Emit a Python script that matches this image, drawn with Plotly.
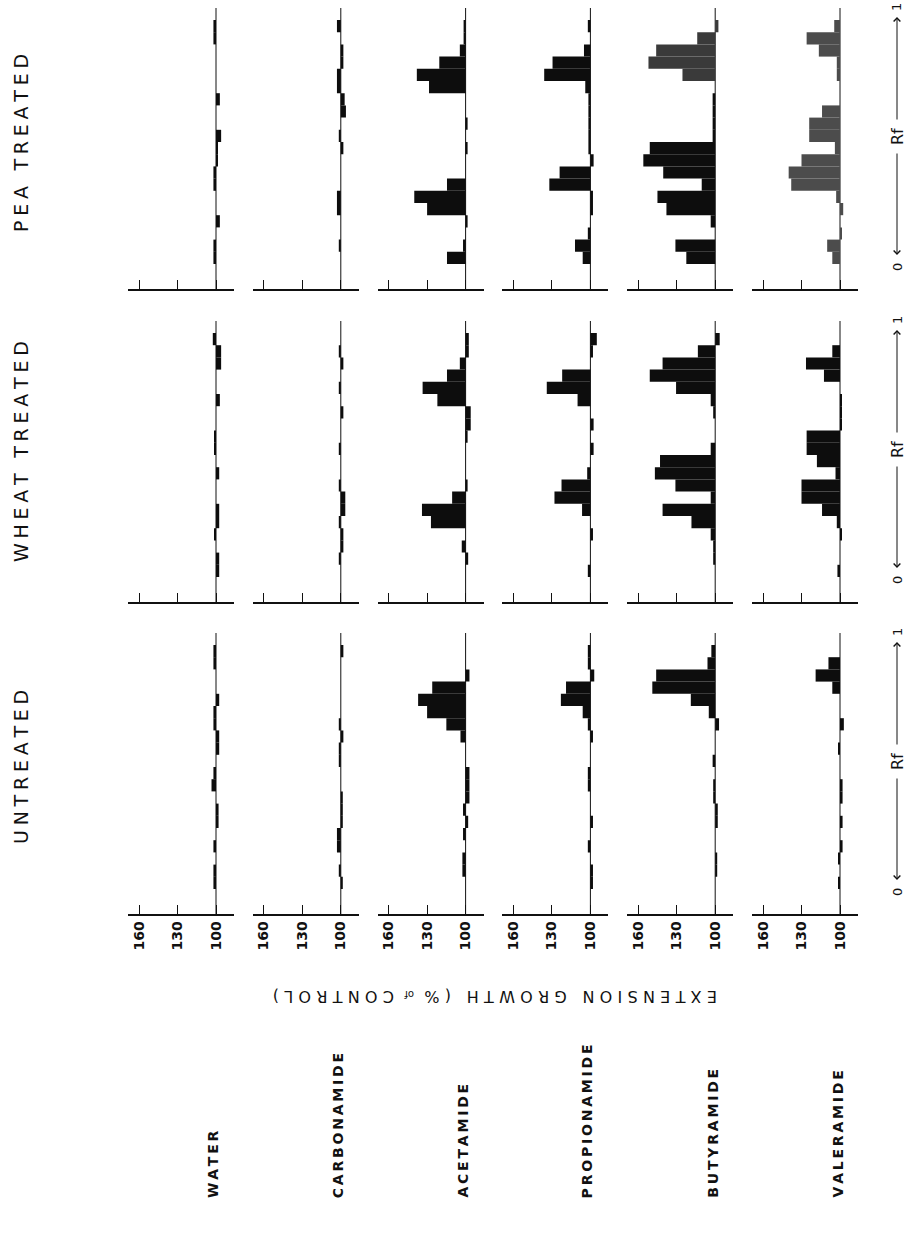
import plotly.graph_objects as go

# ---------------- data ----------------
rf_mid = [0.025, 0.075, 0.125, 0.175, 0.225, 0.275, 0.325, 0.375, 0.425, 0.475,
          0.525, 0.575, 0.625, 0.675, 0.725, 0.775, 0.825, 0.875, 0.925, 0.975]
compounds = ["WATER", "CARBONAMIDE", "ACETAMIDE", "PROPIONAMIDE", "BUTYRAMIDE", "VALERAMIDE"]
treatments = ["PEA TREATED", "WHEAT TREATED", "UNTREATED"]
growth_ticks = [160, 130, 100]

untreated_water = [102, 102, 100, 102, 100, 98, 98, 100, 103.5, 102, 100, 97.5, 97.5, 102, 102, 97.5, 100, 100, 102, 102]
untreated_carbonamide = [98.5, 101.5, 100, 103, 103, 98.5, 98.5, 98.5, 100, 100, 101.5, 101.5, 98, 101.5, 100, 100, 100, 100, 100, 98]
untreated_acetamide = [100, 102.5, 102.5, 100, 102, 98, 102, 97, 97, 97, 100, 100, 104, 115, 130, 137, 126, 97, 100, 100]
untreated_propionamide = [98, 98, 100, 102, 100, 98, 100, 100, 102, 102, 100, 100, 98, 102, 106, 123, 119, 97, 102, 102]
untreated_butyramide = [100, 98.5, 98.5, 100, 100, 98, 98, 101.5, 101.5, 100, 102, 100, 100, 97, 105, 119, 149, 146, 106, 103]
untreated_valeramide = [101, 100, 101, 98, 100, 98, 100, 98, 98, 100, 100, 101, 100, 97, 100, 100, 106, 119, 109, 100]

wheat_water = [97.5, 97.5, 100, 101, 97.5, 97.5, 100, 100, 97.5, 100, 101.5, 101.5, 100, 100, 97, 100, 100, 96, 96, 102.5]
wheat_carbonamide = [100, 101.5, 98, 98, 101.5, 96.5, 96.5, 101.5, 100, 100, 101.5, 100, 100, 98, 100, 101.5, 100, 98, 101.5, 100]
wheat_acetamide = [100, 98, 103, 100, 127, 134, 110.5, 99, 100, 100, 100, 98.5, 96, 96, 122, 133.5, 114.5, 104.5, 97.5, 97.5]
wheat_propionamide = [102, 100, 100, 98, 100, 106.5, 128, 122.5, 102.5, 100, 97.5, 100, 97.5, 100, 110, 134, 122, 100, 98, 95]
wheat_butyramide = [100, 101.5, 101.5, 103.5, 118.5, 141, 103.5, 131, 147, 143, 103.5, 100, 100, 101.5, 103.5, 130.5, 151, 141, 113.5, 96.5]
wheat_valeramide = [102, 100, 100, 98.5, 102.5, 114, 130, 130, 103.5, 118, 126, 126, 98.5, 98.5, 98.5, 100, 112.5, 126.5, 106, 100]

pea_water = [102, 102, 100, 97, 100, 100, 102, 102, 98.5, 98.5, 96, 100, 100, 97, 100, 100, 100, 100, 102, 102]
pea_carbonamide = [100, 101.5, 100, 100, 103, 103, 100, 100, 100, 98, 101, 100, 96, 97, 103, 103, 98, 98, 100, 103]
pea_acetamide = [114.5, 102, 100, 98.5, 130, 140, 114.5, 100, 100, 98.5, 100, 98.5, 100, 100, 128.5, 138, 120.5, 104.5, 101, 101]
pea_propionamide = [106, 112, 102, 100, 98, 98, 132, 124, 97.5, 101.5, 101.5, 101.5, 101.5, 101.5, 104, 136, 129.5, 105, 100, 102]
pea_butyramide = [122.5, 131, 100, 103.5, 138, 145, 110.5, 140.5, 156, 151, 102, 102, 102, 102, 100, 125.5, 152, 146, 114, 97.5]
pea_valeramide = [106, 110, 98.5, 100, 97.5, 103, 138, 140, 130, 104, 124, 124, 114, 100, 100, 102.5, 102.5, 116.5, 126, 104.5]

data = {
    "UNTREATED": [untreated_water, untreated_carbonamide, untreated_acetamide,
                  untreated_propionamide, untreated_butyramide, untreated_valeramide],
    "WHEAT TREATED": [wheat_water, wheat_carbonamide, wheat_acetamide,
                      wheat_propionamide, wheat_butyramide, wheat_valeramide],
    "PEA TREATED": [pea_water, pea_carbonamide, pea_acetamide,
                    pea_propionamide, pea_butyramide, pea_valeramide],
}

# ---------------- layout geometry (pixels) ----------------
W, H = 909, 1234
FONT = "DejaVu Sans"
INK = "#111111"
panel_y0 = {"PEA TREATED": 264, "WHEAT TREATED": 577, "UNTREATED": 889}   # Rf = 0
title_yc = {"PEA TREATED": 143, "WHEAT TREATED": 452, "UNTREATED": 767}
base_x = [216 + 124.8 * c for c in range(6)]                               # growth = 100
PXU = 38.5 / 30      # px per growth unit
RFPX = 244           # px per Rf unit
LEFT, RIGHT = 88, 18
BOT, TOP = 25, 256


def fx(p):
    return p / W


def fy(p):
    return 1 - p / H


def spaced(text, sp):
    return (sp + "\u00a0" + sp).join(sp.join(list(w)) for w in text.split(" "))


fig = go.Figure()
layout = {}
shapes = []
annotations = []

for t_i, t in enumerate(treatments):
    y0 = panel_y0[t]
    for c_i, comp in enumerate(compounds):
        n = t_i * 6 + c_i + 1
        xs = "x" if n == 1 else f"x{n}"
        ys = "y" if n == 1 else f"y{n}"
        vals = data[t][c_i]
        if t == "PEA TREATED" and comp == "VALERAMIDE":
            colors = ["#4c4c4c"] * len(vals)
        elif t == "PEA TREATED" and comp == "BUTYRAMIDE":
            colors = ["#0d0d0d" if r < 0.75 else "#3a3a3a" for r in rf_mid]
        else:
            colors = ["#0d0d0d"] * len(vals)
        fig.add_trace(go.Bar(
            y=rf_mid, x=[v - 100 for v in vals], base=100, orientation="h",
            width=0.05, marker=dict(color=colors, line=dict(width=0)),
            xaxis=xs, yaxis=ys, showlegend=False, hoverinfo="skip"))
        b = base_x[c_i]
        layout["xaxis" if n == 1 else f"xaxis{n}"] = dict(
            domain=[fx(b - LEFT), fx(b + RIGHT)],
            range=[100 + LEFT / PXU, 100 - RIGHT / PXU],
            anchor=ys, showline=True, linecolor=INK, linewidth=1.5,
            ticks="inside", ticklen=9, tickwidth=1.3, tickcolor=INK,
            tickvals=growth_ticks, ticktext=[str(v) for v in growth_ticks],
            showticklabels=(t == "UNTREATED"), tickangle=-90,
            tickfont=dict(family=FONT, size=14, color=INK, weight="bold"),
            showgrid=False, zeroline=False, fixedrange=True)
        layout["yaxis" if n == 1 else f"yaxis{n}"] = dict(
            domain=[fy(y0 + BOT), fy(y0 - TOP)],
            range=[-BOT / RFPX, TOP / RFPX], anchor=xs, visible=False,
            fixedrange=True)
        shapes.append(dict(type="line", xref=xs, yref=ys, x0=100, x1=100,
                           y0=-BOT / RFPX, y1=TOP / RFPX,
                           line=dict(color=INK, width=1), layer="below"))

    # column title
    annotations.append(dict(
        text=spaced(t, "\u2005"), x=fx(21), y=fy(title_yc[t]), xref="paper", yref="paper",
        textangle=-90, showarrow=False, xanchor="center", yanchor="middle",
        font=dict(family=FONT, size=19, color=INK)))

    # Rf scale labels
    rx = fx(897)
    annotations.append(dict(text="0", x=rx, y=fy(y0 + 3), xref="paper", yref="paper",
                            showarrow=False, textangle=-90, xanchor="center", yanchor="middle",
                            font=dict(family=FONT, size=13, color=INK)))
    annotations.append(dict(text="1", x=rx, y=fy(y0 - 257), xref="paper", yref="paper",
                            showarrow=False, textangle=-90, xanchor="center", yanchor="middle",
                            font=dict(family=FONT, size=13, color=INK)))
    annotations.append(dict(text="Rf", x=rx, y=fy(y0 - 127), xref="paper", yref="paper",
                            showarrow=False, textangle=-90, xanchor="center", yanchor="middle",
                            font=dict(family=FONT, size=16, color=INK)))
    annotations.append(dict(text="", x=rx, y=fy(y0 - 9), xref="paper", yref="paper",
                            showarrow=True, ax=0, ay=-(112 - 9), axref="pixel", ayref="pixel",
                            arrowhead=4, arrowsize=1.3, arrowwidth=1, arrowcolor=INK, standoff=0))
    annotations.append(dict(text="", x=rx, y=fy(y0 - 247), xref="paper", yref="paper",
                            showarrow=True, ax=0, ay=(247 - 143), axref="pixel", ayref="pixel",
                            arrowhead=4, arrowsize=1.3, arrowwidth=1, arrowcolor=INK, standoff=0))

# compound labels
for c_i, comp in enumerate(compounds):
    annotations.append(dict(
        text=spaced(comp, "\u2009"), x=fx(base_x[c_i] - 3), y=fy(1200), xref="paper", yref="paper",
        textangle=-90, showarrow=False, xanchor="center", yanchor="bottom",
        font=dict(family=FONT, size=14, color=INK, weight="bold")))

# value axis title (upside down)
annotations.append(dict(
    text=spaced("EXTENSION GROWTH (%", "\u2004") + "\u2004\u00a0<span style='font-size:10px'>of</span>\u00a0\u2004"
         + spaced("CONTROL)", "\u2004"),
    x=fx(495), y=fy(997), xref="paper", yref="paper", textangle=180, showarrow=False,
    xanchor="center", yanchor="middle", font=dict(family=FONT, size=16, color=INK)))

fig.update_layout(
    width=W, height=H, margin=dict(l=0, r=0, t=0, b=0),
    paper_bgcolor="white", plot_bgcolor="rgba(0,0,0,0)",
    shapes=shapes, annotations=annotations, **layout)

fig.write_html("out.html")
